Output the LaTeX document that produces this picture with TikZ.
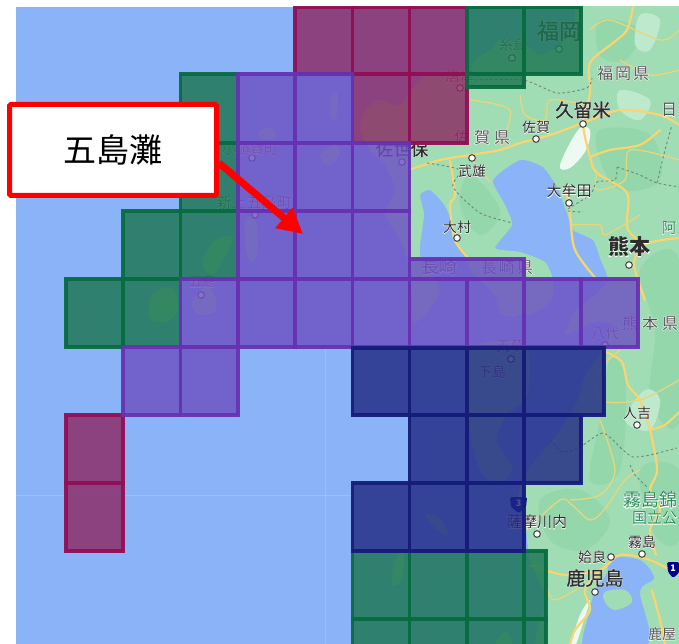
\documentclass[tikz,border=0pt]{standalone}
\usepackage{fontspec}
\usetikzlibrary{arrows.meta}
\setmainfont{Noto Sans CJK JP}
\newfontfamily\halofont[FakeBold=5]{Noto Sans CJK JP}
\newfontfamily\medfont[FakeBold=1.2]{Noto Sans CJK JP}
\definecolor{seac}{RGB}{138,180,247}
\definecolor{landc}{RGB}{160,220,180}
\definecolor{landd}{RGB}{147,215,170}
\definecolor{landl}{RGB}{190,233,205}
\definecolor{roadc}{RGB}{250,212,110}
\definecolor{bordc}{RGB}{110,135,125}
\definecolor{txtd}{RGB}{45,45,45}
\definecolor{txtm}{RGB}{85,85,85}
\definecolor{txtg}{RGB}{40,140,90}
\definecolor{rf}{RGB}{140,42,100}
\definecolor{rs}{RGB}{145,15,85}
\definecolor{gf}{RGB}{28,117,82}
\definecolor{gs}{RGB}{8,108,65}
\definecolor{pf}{RGB}{109,80,195}
\definecolor{ps}{RGB}{103,50,178}
\definecolor{bf}{RGB}{34,42,132}
\definecolor{bs}{RGB}{22,28,122}
\tikzset{
 redcell/.style={draw=rs,fill=rf,fill opacity=.82,draw opacity=.95,line width=3.2},
 greencell/.style={draw=gs,fill=gf,fill opacity=.82,draw opacity=.95,line width=3.2},
 purplecell/.style={draw=ps,fill=pf,fill opacity=.82,draw opacity=.95,line width=3.2},
 bluecell/.style={draw=bs,fill=bf,fill opacity=.82,draw opacity=.95,line width=3.2},
 road/.style={draw=roadc,line width=2.2,line join=round,line cap=round},
 thinroad/.style={draw=roadc!80!landc,line width=1.3,line join=round,line cap=round},
 pref/.style={draw=bordc,line width=.9,dash pattern=on 2.5pt off 2.5pt},
 citydot/.style={draw=txtd!85,fill=white,line width=1.1},
 maptext/.style={inner sep=0pt,outer sep=0pt,anchor=center},
 callout/.style={draw=red,fill=white,line width=5,rounded corners=1.5,minimum width=207,minimum height=91,inner sep=0pt,text=black},
 pointer/.style={draw=red,line width=7,-{Triangle[length=25pt,width=25pt,fill=red]}},
}
\newcommand{\mlab}[5]{\node[maptext] (#1) at (#2) {\fontsize{#3}{#3}\selectfont\leavevmode\rlap{\halofont\color{white}#5}\textcolor{#4}{#5}};}
\newcommand{\blab}[5]{\node[maptext] (#1) at (#2) {\fontsize{#3}{#3}\selectfont\leavevmode\rlap{\halofont\color{white}#5}\textcolor{#4}{\medfont #5}};}
\begin{document}
\begin{tikzpicture}[x=1pt,y=-1pt]
\useasboundingbox (0,0) rectangle (679,644);
\begin{scope}
\clip (16,7) rectangle (679,644);
\fill[seac] (16,7) rectangle (679,644);
\draw[white,opacity=.15,line width=.8] (16,495) -- (352,495);
\draw[white,opacity=.15,line width=.8] (325,347) -- (325,644);
% main land
\fill[landc] plot[smooth cycle,tension=.35] coordinates {
(581,2)(684,2)(684,650)(540,650)(546,600)(530,560)(525,520)(518,495)(528,470)(560,430)(578,400)(585,375)(603,350)
(612,325)(595,322)(565,335)(575,312)(595,295)(608,280)(600,258)(593,240)(573,230)(567,213)(557,187)(543,167)(520,160)(493,180)
(505,205)(512,225)(495,248)(520,252)(545,262)(553,280)(552,300)(530,315)(505,310)(490,290)(470,270)(465,255)(453,240)
(450,217)(443,203)(430,190)(420,195)(424,215)(420,255)(440,290)(425,315)(413,323)(412,300)(408,262)(400,240)(385,215)(395,190)
(385,165)(370,150)(360,130)(365,110)(380,100)(400,105)(420,80)(445,70)(467,75)(475,60)(490,50)(500,40)(525,45)(540,55)(560,45)(575,25)};
% greener and lighter patches
\fill[landd] plot[smooth cycle,tension=.6] coordinates {(600,20)(640,30)(625,60)(600,55)};
\fill[landd] plot[smooth cycle,tension=.6] coordinates {(600,130)(650,135)(660,180)(620,190)(600,160)};
\fill[landd] plot[smooth cycle,tension=.6] coordinates {(640,270)(679,260)(679,420)(650,400)(655,330)};
\fill[landd] plot[smooth cycle,tension=.6] coordinates {(610,360)(625,380)(620,470)(590,480)(600,420)};
\fill[landd] plot[smooth cycle,tension=.6] coordinates {(470,175)(500,210)(480,235)(460,205)};
\fill[landd] plot[smooth cycle,tension=.6] coordinates {(540,500)(580,490)(610,520)(585,550)(550,540)};
\fill[landd] plot[smooth cycle,tension=.6] coordinates {(640,470)(679,470)(679,540)(655,535)};
\fill[landl] plot[smooth cycle,tension=.6] coordinates {(640,15)(660,20)(650,50)(635,45)};
\fill[landl] plot[smooth cycle,tension=.6] coordinates {(620,90)(650,100)(640,120)(620,110)};
\fill[white!75!landl] plot[smooth cycle,tension=.6] coordinates {(578,130)(590,130)(586,150)(570,168)(560,165)};
\fill[white!70!landl] plot[smooth cycle,tension=.6] coordinates {(590,600)(584,620)(576,644)(571,644)(580,615)};
\fill[landl] plot[smooth cycle,tension=.6] coordinates {(625,420)(650,430)(660,400)(645,390)};
% inner seas
\fill[seac] plot[smooth cycle,tension=.5] coordinates {(612,558)(640,560)(654,578)(640,592)(648,644)(585,650)(590,610)(595,590)(606,575)};
% islands
\fill[landc] plot[smooth cycle,tension=.6] coordinates {(605,592)(625,590)(632,602)(615,610)(605,602)};
\fill[landc] plot[smooth cycle,tension=.6] coordinates {(470,347)(524,345)(527,395)(507,415)(497,440)(512,468)(500,482)(480,470)(468,420)(466,380)};
\fill[landc] plot[smooth cycle,tension=.6] coordinates {(497,300)(512,293)(524,300)(520,315)(503,315)};
\fill[landc] plot[smooth cycle,tension=.6] coordinates {(200,290)(212,290)(216,310)(200,315)(192,305)};
\fill[landc] plot[smooth cycle,tension=.6] coordinates {(152,295)(172,288)(178,310)(165,322)(150,318)};
\fill[landc] plot[smooth cycle,tension=.6] coordinates {(202,262)(215,240)(232,238)(222,262)(212,275)};
\fill[landc] plot[smooth cycle,tension=.6] coordinates {(245,222)(255,218)(258,250)(252,262)(246,250)};
\fill[landc] plot[smooth cycle,tension=.6] coordinates {(258,133)(270,127)(276,136)(264,140)};
\fill[landc] plot[smooth cycle,tension=.6] coordinates {(320,155)(335,145)(340,155)(328,165)};
\fill[landc] plot[smooth cycle,tension=.6] coordinates {(331,95)(338,95)(336,118)(331,116)};
\fill[landc] plot[smooth cycle,tension=.6] coordinates {(425,515)(440,518)(448,535)(438,530)};
\fill[landc] plot[smooth cycle,tension=.6] coordinates {(395,560)(404,552)(402,578)(392,585)};
\fill[landc] plot[smooth cycle,tension=.6] coordinates {(497,640)(506,632)(512,644)(497,646)};
% roads
\draw[road] plot[smooth,tension=.5] coordinates {(633,7)(627,30)(613,43)(590,63)(590,93)(583,123)(590,157)(597,173)(627,193)(627,227)(640,245)(634,265)(645,300)};
\draw[road] plot[smooth,tension=.5] coordinates {(409,170)(440,160)(470,155)(500,150)(520,143)(550,135)(583,123)(620,110)(660,115)(679,125)};
\draw[road] plot[smooth,tension=.5] coordinates {(590,157)(610,150)(640,145)(660,130)};
\draw[road] plot[smooth,tension=.5] coordinates {(450,160)(455,195)(450,205)(455,240)(470,260)};
\draw[road] plot[smooth,tension=.5] coordinates {(566,190)(570,215)(575,250)(597,280)};
\draw[road] plot[smooth,tension=.5] coordinates {(606,352)(622,362)(628,385)(640,400)(650,430)(657,470)(650,490)(660,510)(650,530)(656,555)};
\draw[road] plot[smooth,tension=.5] coordinates {(530,565)(565,575)(600,570)(620,555)(650,560)(679,575)};
\draw[road] plot[smooth,tension=.5] coordinates {(600,570)(585,590)(590,610)(575,630)(570,644)};
\draw[road] plot[smooth,tension=.5] coordinates {(652,590)(660,620)(665,644)};
\draw[road] plot[smooth,tension=.5] coordinates {(640,245)(662,240)(679,238)};
\draw[road] plot[smooth,tension=.5] coordinates {(650,430)(665,425)(679,412)};
\draw[thinroad] plot[smooth,tension=.5] coordinates {(526,530)(560,500)(572,505)(590,520)(604,510)(625,480)(640,470)};
\draw[thinroad] plot[smooth,tension=.5] coordinates {(590,30)(610,20)(660,40)(679,30)};
\draw[thinroad] plot[smooth,tension=.5] coordinates {(620,60)(650,75)(679,70)};
\draw[thinroad] plot[smooth,tension=.5] coordinates {(520,95)(525,115)(545,120)(550,100)(585,105)};
\draw[thinroad] plot[smooth,tension=.5] coordinates {(470,100)(510,110)(500,145)};
\draw[thinroad] plot[smooth,tension=.5] coordinates {(490,182)(472,160)};
\draw[thinroad] plot[smooth,tension=.5] coordinates {(597,173)(597,190)(625,180)(630,150)(679,160)};
\draw[thinroad] plot[smooth,tension=.5] coordinates {(570,225)(600,225)(605,235)(640,215)};
\draw[thinroad] plot[smooth,tension=.5] coordinates {(600,420)(615,470)(600,495)(570,500)};
\draw[thinroad] plot[smooth,tension=.5] coordinates {(620,350)(600,370)(600,400)(640,400)(679,380)};
\draw[thinroad] plot[smooth,tension=.5] coordinates {(546,580)(555,600)(600,575)};
% prefecture borders
\draw[pref] plot[smooth,tension=.4] coordinates {(550,440)(563,452)(580,447)(603,433)(623,450)(633,457)(650,455)(677,448)};
\draw[pref] plot[smooth,tension=.4] coordinates {(630,465)(635,475)(647,487)};
\draw[pref] plot[smooth,tension=.4] coordinates {(427,163)(460,170)(453,187)(480,213)(513,223)};
\draw[pref] plot[smooth,tension=.4] coordinates {(470,80)(523,80)(557,93)(587,88)(592,78)};
\draw[pref] plot[smooth,tension=.4] coordinates {(617,167)(615,180)(597,182)(590,195)(567,210)(583,212)};
\draw[pref] plot[smooth,tension=.4] coordinates {(617,167)(640,175)(657,183)(680,187)};
\draw[pref] plot[smooth,tension=.4] coordinates {(657,183)(665,150)(672,125)};
% route shields
\fill[rounded corners=1.5,blue!55!black] (510,497) -- (527,497) -- (526,507) -- (518.5,513) -- (511,507) -- cycle;
\node[maptext,text=white] (shieldA) at (518.5,503.5) {\fontsize{9}{9}\selectfont\bfseries 3};
\fill[rounded corners=1.5,blue!55!black] (667,562) -- (679,562) -- (679,573) -- (673,578) -- (668,572) -- cycle;
\node[maptext,text=white] (shieldB) at (673,568) {\fontsize{9}{9}\selectfont\bfseries 1};
% city dots
\foreach \cx/\cy in {559/49,512/58,583/124,460/88,536/139,402/162,472/158,569/203,457/238,629/265,605/345,511/359,637/425,537/534,611/557,642/554,595/592,252/158,255/215,201/295}
  \draw[citydot] (\cx,\cy) circle (3.3pt);
% labels
\blab{l1}{559,31}{22}{txtd}{福岡}
\mlab{l2}{513,45}{14}{txtm}{糸島}
\mlab{l3}{623,73}{16}{txtm}{福\kern2pt岡\kern2pt県}
\blab{l4}{583,110}{18.5}{txtd}{久留米}
\mlab{l5}{669,110}{16}{txtm}{日}
\mlab{l6}{460,76}{14}{txtm}{唐津}
\mlab{l7}{482,137}{16}{txtm}{佐\kern4pt賀\kern4pt県}
\mlab{l8}{536,127}{14}{txtd}{佐賀}
\blab{l9}{402,149}{17.5}{txtd}{佐世保}
\mlab{l10}{472,171}{14}{txtd}{武雄}
\mlab{l11}{569,191}{15}{txtd}{大牟田}
\mlab{l12}{457,227}{14}{txtd}{大村}
\node[maptext] (l13) at (629,247) {\fontsize{21}{21}\selectfont\leavevmode\rlap{\halofont\color{white}熊本}\textcolor{txtd}{\bfseries 熊本}};
\mlab{l14}{669,228}{15}{txtg}{阿}
\mlab{l15}{439,267}{18}{txtm}{長崎}
\mlab{l16}{507,267}{16}{txtm}{長\kern2pt崎\kern2pt県}
\mlab{l17}{650,323}{16}{txtm}{熊\kern4pt本\kern4pt県}
\mlab{l18}{605,333}{14}{txtm}{八代}
\mlab{l19}{510,346}{14}{txtm}{天草}
\mlab{l20}{492,372}{14}{txtm}{下島}
\mlab{l21}{637,413}{14}{txtd}{人吉}
\node[maptext,anchor=west] (l22) at (623,500) {\fontsize{18}{18}\selectfont\leavevmode\rlap{\halofont\color{white}霧島錦}\textcolor{txtg}{霧島錦}};
\node[maptext,anchor=west] (l23) at (632,518) {\fontsize{15}{15}\selectfont\leavevmode\rlap{\halofont\color{white}国立公}\textcolor{txtg}{国立公}};
\mlab{l24}{537,522}{15}{txtd}{薩摩川内}
\mlab{l25}{592,557}{14}{txtd}{姶良}
\mlab{l26}{642,542}{14}{txtd}{霧島}
\blab{l27}{595,578}{19}{txtd}{鹿児島}
\mlab{l28}{662,634}{14}{txtm}{鹿屋}
\mlab{l29}{250,149}{14}{txtm}{小値賀町}
\mlab{l30}{254,203}{15}{txtm}{新上五島町}
\mlab{l31}{202,282}{13}{txtm}{五島}
% mesh cells
\foreach \a/\b/\c/\d in {295/7/352.5/74,352.5/7/409.5/74,409.5/7/467/74,352.5/74/409.5/143,409.5/74/467/143,66/415/123/483,66/483/123/551}
  \draw[redcell] (\a,\b) rectangle (\c,\d);
\foreach \a/\b/\c/\d in {467/7/524/74,524/7/581/74,467/74/524/87,180.5/74/238/143,180.5/143/238/211,180.5/211/238/279,123/211/180.5/279,123/279/180.5/347,66/279/123/347,352.5/551/409.5/619,409.5/551/467/619,467/551/524/619,524/551/546/619,352.5/619/409.5/650,409.5/619/467/650,467/619/524/650,524/619/546/650}
  \draw[greencell] (\a,\b) rectangle (\c,\d);
\foreach \a/\b/\c/\d in {238/74/295/143,295/74/352.5/143,238/143/295/211,295/143/352.5/211,352.5/143/409.5/211,238/211/295/279,295/211/352.5/279,352.5/211/409.5/279,409.5/259/524/279,180.5/279/238/347,238/279/295/347,295/279/352.5/347,352.5/279/409.5/347,409.5/279/467/347,467/279/524/347,524/279/581/347,581/279/638/347,123/347/180.5/415,180.5/347/238/415}
  \draw[purplecell] (\a,\b) rectangle (\c,\d);
\foreach \a/\b/\c/\d in {352.5/348/409.5/415,409.5/348/467/415,467/348/524/415,524/348/604/415,409.5/415/467/483,467/415/524/483,524/415/581/483,352.5/483/409.5/551,409.5/483/467/551,467/483/524/551}
  \draw[bluecell] (\a,\b) rectangle (\c,\d);
\end{scope}
% callout
\node[callout] (gotonada) at (113,150) {\fontsize{33}{36}\selectfont\raisebox{-2pt}{五島灘}};
\coordinate (gotopoint) at (303,234);
\draw[pointer] (gotonada.-7) -- (gotopoint);
\end{tikzpicture}
\end{document}
